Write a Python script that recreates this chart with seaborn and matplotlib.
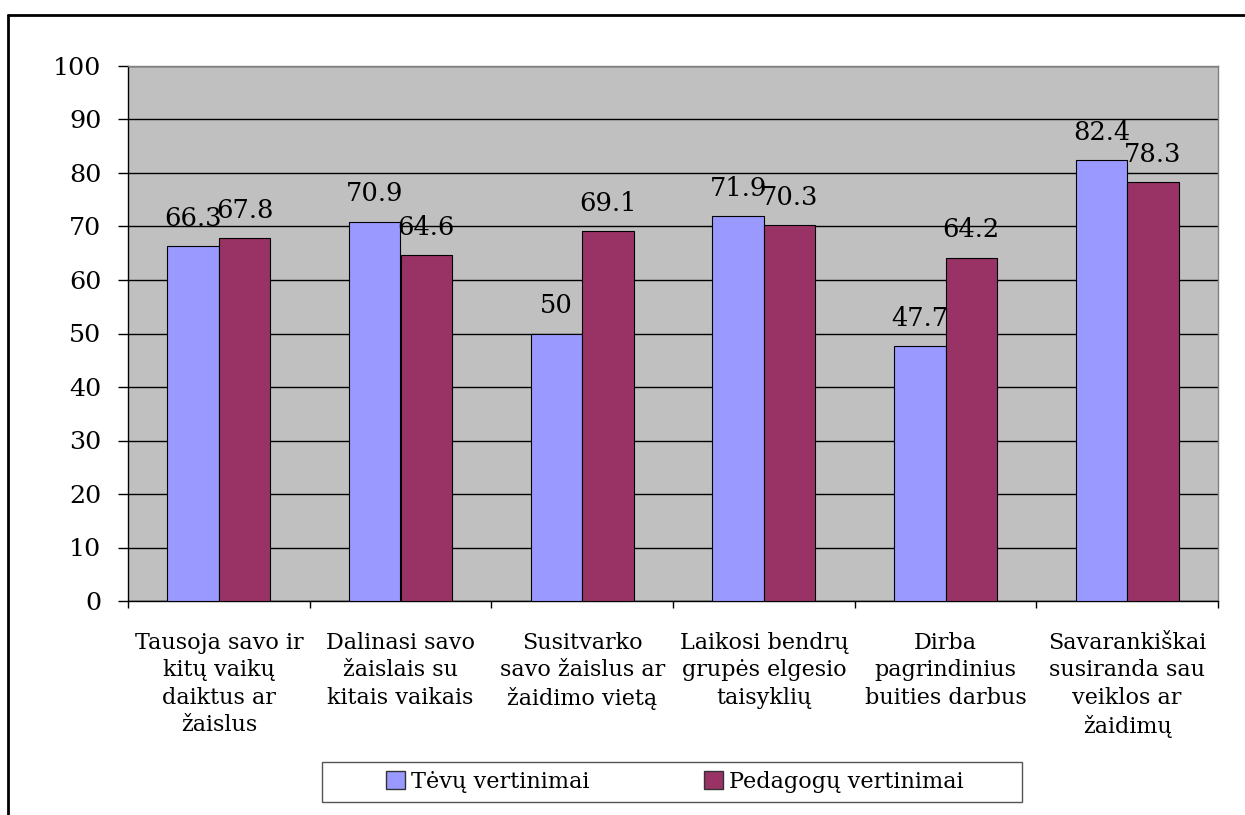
import numpy as np
import pandas as pd
import seaborn as sns
import matplotlib.pyplot as plt
from matplotlib.lines import Line2D
from matplotlib.patches import Rectangle

categories = [
    "Tausoja savo ir\nkitų vaikų\ndaiktus ar\nžaislus",
    "Dalinasi savo\nžaislais su\nkitais vaikais",
    "Susitvarko\nsavo žaislus ar\nžaidimo vietą",
    "Laikosi bendrų\ngrupės elgesio\ntaisyklių",
    "Dirba\npagrindinius\nbuities darbus",
    "Savarankiškai\nsusiranda sau\nveiklos ar\nžaidimų",
]
tevu = [66.3, 70.9, 50, 71.9, 47.7, 82.4]
pedagogu = [67.8, 64.6, 69.1, 70.3, 64.2, 78.3]
series = ["Tėvų vertinimai", "Pedagogų vertinimai"]
colors = ["#9999FF", "#993366"]

df = pd.DataFrame({
    "cat": categories * 2,
    "value": tevu + pedagogu,
    "series": [series[0]] * 6 + [series[1]] * 6,
})

sns.set_style("white")
plt.rcParams["font.family"] = ["DejaVu Serif"]
plt.rcParams["text.color"] = "black"
plt.rcParams["xtick.color"] = "black"
plt.rcParams["ytick.color"] = "black"

W, H = 1245, 815
fig = plt.figure(figsize=(W / 100, H / 100), dpi=100)
ax = fig.add_axes([128 / W, 1 - 601 / H, 1090 / W, 535 / H])
ax.set_facecolor("#C0C0C0")

sns.barplot(data=df, x="cat", y="value", hue="series", palette=colors,
            width=0.567, gap=0, edgecolor="black", linewidth=0.8,
            saturation=1, ax=ax, legend=True, zorder=3)

for cont in ax.containers:
    labels = [f"{v:g}" for v in cont.datavalues]
    ax.bar_label(cont, labels=labels, fontsize=18.5, padding=11, color="black", zorder=4)

ax.set_ylim(0, 100)
ax.set_xlim(-0.5, 5.5)
ax.set_yticks(np.arange(0, 101, 10))
ax.yaxis.grid(True, color="black", linewidth=1, zorder=0)
ax.set_axisbelow(True)
ax.set_xlabel("")
ax.set_ylabel("")

ax.tick_params(axis="y", which="major", length=7.2, width=1, color="black",
               labelcolor="black", labelsize=18.3, pad=12, left=True)
ax.set_xticks(np.arange(-0.5, 6, 1), minor=True)
ax.tick_params(axis="x", which="minor", length=5, width=1, color="black", bottom=True)
ax.tick_params(axis="x", which="major", length=0, labelcolor="black", labelsize=16, pad=22)
for lab in ax.get_xticklabels():
    lab.set_horizontalalignment("center")
    lab.set_multialignment("center")
    lab.set_linespacing(1.33)

for s in ["left", "bottom"]:
    ax.spines[s].set_color("black")
    ax.spines[s].set_linewidth(1)
for s in ["top", "right"]:
    ax.spines[s].set_color("#808080")
    ax.spines[s].set_linewidth(1)

handles, lbls = ax.get_legend_handles_labels()
ax.legend_.remove()
leg = fig.legend(handles, lbls, loc="center", bbox_to_anchor=(675 / W, 1 - 782 / H),
                 ncol=2, fontsize=16.1, frameon=False, labelcolor="black",
                 handlelength=0.86, handleheight=0.86, handletextpad=0.27,
                 columnspacing=5.1, borderpad=0.2)
for h in leg.legend_handles:
    h.set_edgecolor("#333333")
    h.set_linewidth(1)

# legend box and the outer frame (top and left edges only)
fig.patches.append(Rectangle((322 / W, 1 - 802 / H), 700 / W, 40 / H,
                             transform=fig.transFigure, fill=False,
                             edgecolor="#555555", linewidth=1))
fig.lines.append(Line2D([8 / W, 1.0], [1 - 14.5 / H, 1 - 14.5 / H],
                        transform=fig.transFigure, color="black", linewidth=2))
fig.lines.append(Line2D([8 / W, 8 / W], [0.0, 1 - 14.5 / H],
                        transform=fig.transFigure, color="black", linewidth=2))

fig.savefig("out.png", dpi=100)
